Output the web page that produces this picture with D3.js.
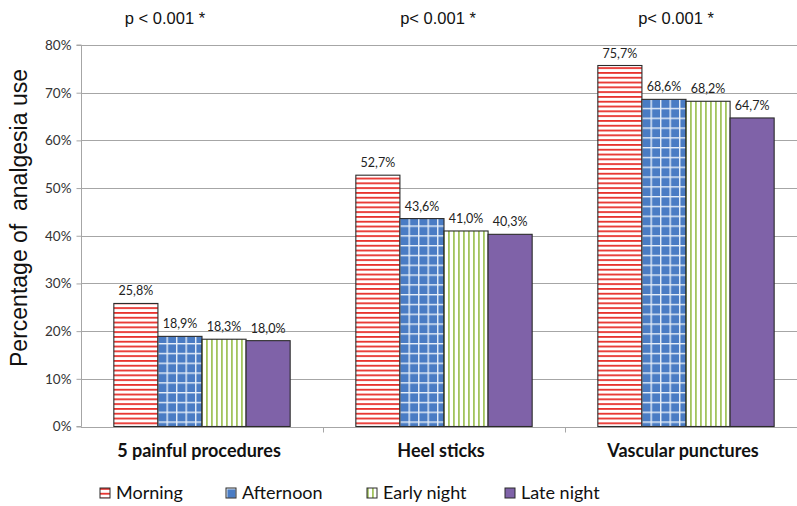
<!DOCTYPE html>
<html>
<head>
<meta charset="utf-8">
<script src="https://cdn.jsdelivr.net/npm/d3@7"></script>
<style>
  html, body { margin: 0; padding: 0; background: #fff; }
  svg { display: block; }
</style>
</head>
<body>
<svg id="chart" width="797" height="506"></svg>
<script>
// Analgesia use by time of day, per procedure group
const categories = ["5 painful procedures", "Heel sticks", "Vascular punctures"];
const series = ["Morning", "Afternoon", "Early night", "Late night"];
const morning = [25.8, 52.7, 75.7];
const afternoon = [18.9, 43.6, 68.6];
const earlyNight = [18.3, 41.0, 68.2];
const lateNight = [18.0, 40.3, 64.7];
const pValues = ["p < 0.001 *", "p< 0.001 *", "p< 0.001 *"];
const yTicks = [0, 10, 20, 30, 40, 50, 60, 70, 80];

const values = [morning, afternoon, earlyNight, lateNight];

const svg = d3.select("#chart");
const margin = { left: 81, right: -10, top: 45, bottom: 79.5 };
const W = 797, H = 506;
const plotBottom = H - margin.bottom;
const labelFont = "Lato, 'Open Sans', sans-serif";
const arialFont = "'Liberation Sans', Arial, sans-serif";

const x0 = d3.scaleBand().domain(categories).range([margin.left, W - margin.right]).padding(0);
const x1 = d3.scaleBand().domain(series).range([0, x0.bandwidth()]).paddingInner(0).paddingOuter(0.745);
const y = d3.scaleLinear().domain([0, 80]).range([plotBottom, margin.top]);

// Fill patterns for each series
const defs = svg.append("defs");
const pm = defs.append("pattern").attr("id", "pat-morning").attr("patternUnits", "userSpaceOnUse")
  .attr("width", 8).attr("height", 4.8);
pm.append("rect").attr("width", 8).attr("height", 4.8).attr("fill", "#fff");
pm.append("rect").attr("y", 0).attr("width", 8).attr("height", 1.8).attr("fill", "#e8322d");

const pa = defs.append("pattern").attr("id", "pat-afternoon").attr("patternUnits", "userSpaceOnUse")
  .attr("width", 9.5).attr("height", 9.8);
pa.append("rect").attr("width", 9.5).attr("height", 9.8).attr("fill", "#4a7cc4");
pa.append("rect").attr("x", 0).attr("width", 1.4).attr("height", 9.8).attr("fill", "#e6eef8");
pa.append("rect").attr("y", 0).attr("width", 9.5).attr("height", 1.4).attr("fill", "#e6eef8");

const pe = defs.append("pattern").attr("id", "pat-early").attr("patternUnits", "userSpaceOnUse")
  .attr("width", 5).attr("height", 8);
pe.append("rect").attr("width", 5).attr("height", 8).attr("fill", "#fff");
pe.append("rect").attr("x", 0).attr("width", 1.8).attr("height", 8).attr("fill", "#a3c45e");

const fills = {
  "Morning": "url(#pat-morning)",
  "Afternoon": "url(#pat-afternoon)",
  "Early night": "url(#pat-early)",
  "Late night": "#7f62a8"
};

// Horizontal gridlines
svg.append("g").selectAll("line").data(yTicks.slice(1)).join("line")
  .attr("x1", margin.left).attr("x2", W - margin.right)
  .attr("y1", d => Math.round(y(d)) + 0.5).attr("y2", d => Math.round(y(d)) + 0.5)
  .attr("stroke", "#a6a6a6").attr("stroke-width", 1);

// Y axis
const yAxis = d3.axisLeft(y).tickValues(yTicks).tickFormat(d => d + "%").tickSize(5).tickPadding(5);
const gy = svg.append("g").attr("transform", `translate(${margin.left + 0.5},0)`).call(yAxis);
gy.select(".domain").attr("stroke", "#a6a6a6").attr("d", `M-5,${y(80)}H0V${plotBottom}H-5`);
gy.selectAll(".tick line").attr("stroke", "#a6a6a6");
gy.selectAll(".tick text").attr("font-family", labelFont).attr("font-size", 13.5)
  .attr("fill", "#333");

// X axis baseline with group separators
const gx = svg.append("g").attr("transform", `translate(0,${Math.round(plotBottom) + 0.5})`);
gx.append("line").attr("x1", margin.left).attr("x2", W - margin.right).attr("stroke", "#a6a6a6");
gx.selectAll(".sep").data(categories.slice(1)).join("line").attr("class", "sep")
  .attr("x1", d => Math.round(x0(d)) + 0.5).attr("x2", d => Math.round(x0(d)) + 0.5)
  .attr("y1", 0).attr("y2", 5).attr("stroke", "#a6a6a6");

// Bars
const groups = svg.append("g").selectAll("g").data(categories).join("g")
  .attr("transform", d => `translate(${x0(d)},0)`);

groups.selectAll("rect").data((c, ci) => series.map((s, si) => ({ s, v: values[si][ci] }))).join("rect")
  .attr("x", d => x1(d.s))
  .attr("y", d => y(d.v))
  .attr("width", x1.bandwidth())
  .attr("height", d => plotBottom - y(d.v))
  .attr("fill", d => fills[d.s])
  .attr("stroke", "#2b2b2b").attr("stroke-width", 1.1);

// Value labels
groups.selectAll("text").data((c, ci) => series.map((s, si) => ({ s, v: values[si][ci] }))).join("text")
  .attr("x", d => x1(d.s) + x1.bandwidth() / 2)
  .attr("y", d => y(d.v) - 8)
  .attr("text-anchor", "middle")
  .attr("font-family", labelFont).attr("font-size", 12.5).attr("fill", "#222")
  .text(d => d.v.toFixed(1).replace(".", ",") + "%");

// Category labels
svg.append("g").selectAll("text").data(categories).join("text")
  .attr("x", d => x0(d) + x0.bandwidth() / 2 - 3)
  .attr("y", 457)
  .attr("text-anchor", "middle")
  .attr("font-family", labelFont).attr("font-size", 18).attr("font-weight", "bold")
  .attr("fill", "#111")
  .text(d => d);

// Significance annotations above each group
const pShift = [-37, -6, -10];
svg.append("g").selectAll("text").data(pValues).join("text")
  .attr("x", (d, i) => x0(categories[i]) + x0.bandwidth() / 2 + pShift[i])
  .attr("y", 24)
  .attr("text-anchor", "middle")
  .attr("font-family", arialFont).attr("font-size", 16.5)
  .attr("fill", "#111")
  .text(d => d);

// Y axis title
svg.append("text")
  .attr("transform", "translate(27,218) rotate(-90)")
  .attr("text-anchor", "middle")
  .attr("font-family", arialFont).attr("font-size", 23)
  .attr("fill", "#111")
  .attr("xml:space", "preserve")
  .style("white-space", "pre")
  .text("Percentage of  analgesia use");

// Legend
const legendX = [100, 226, 367, 505];
const lg = svg.append("g").selectAll("g").data(series).join("g")
  .attr("transform", (d, i) => `translate(${legendX[i]},488)`);
lg.append("rect").attr("width", 10).attr("height", 10)
  .attr("fill", d => fills[d]).attr("stroke", "#2b2b2b").attr("stroke-width", 1);
lg.append("text").attr("x", 16).attr("y", 11)
  .attr("font-family", labelFont).attr("font-size", 18).attr("fill", "#111")
  .text(d => d);
</script>
</body>
</html>
